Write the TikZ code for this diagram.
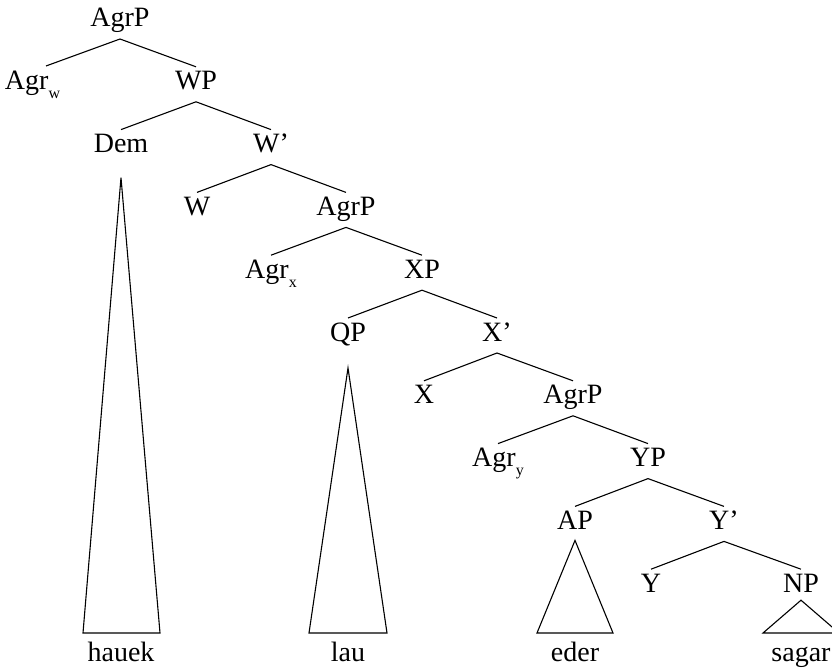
\documentclass[tikz,border=0pt]{standalone}
\usepackage{fontspec}
\setmainfont{Liberation Serif}
\usetikzlibrary{calc}
\newcommand\sbs[1]{\raisebox{-9pt}{\fontsize{16}{16}\selectfont #1}}
\tikzset{
  lbl/.style={inner sep=0pt, outer sep=0pt, font=\fontsize{28}{34}\selectfont, anchor=base},
  edge/.style={line width=1.1pt, line join=miter},
  tri/.style={line width=1.1pt, line join=miter}
}
\begin{document}
\begin{tikzpicture}[x=1pt,y=-1pt]
\useasboundingbox (0,0) rectangle (832,668);
% baselines b_k = 27 + 62.8 k
\node[lbl] (agrp1) at (120,27) {AgrP};
\node[lbl, anchor=base west] (agrw) at (5,89.8) {Agr\sbs{w}};
\coordinate (agrwtop) at (46,66);
\node[lbl] (wp) at (196,89.8) {WP};
\node[lbl] (dem) at (121,152.6) {Dem};
\node[lbl] (wbar) at (271,152.6) {W’};
\node[lbl] (w) at (197,215.4) {W};
\node[lbl] (agrp2) at (346,215.4) {AgrP};
\node[lbl] (agrx) at (271,278.2) {Agr\sbs{x}};
\node[lbl] (xp) at (422,278.2) {XP};
\node[lbl] (qp) at (348,341) {QP};
\node[lbl] (xbar) at (497,341) {X’};
\node[lbl] (x) at (424,403.8) {X};
\node[lbl] (agrp3) at (573,403.8) {AgrP};
\node[lbl] (agry) at (498,466.6) {Agr\sbs{y}};
\node[lbl] (yp) at (648,466.6) {YP};
\node[lbl] (ap) at (575,529.4) {AP};
\node[lbl] (ybar) at (724,529.4) {Y’};
\node[lbl] (y) at (651,592.2) {Y};
\node[lbl] (np) at (801,592.2) {NP};
% leaves
\node[lbl] (hauek) at (121,661) {hauek};
\node[lbl] (lau) at (348,661) {lau};
\node[lbl] (eder) at (575,661) {eder};
\node[lbl] (sagar) at (801,661) {sagar};
% branches
\newcommand\br[2]{\draw[edge] ($(#1.base)+(0,12)$) -- ($(#2.base)+(0,-23)$);}
\draw[edge] ($(agrp1.base)+(0,12)$) -- (agrwtop);
\br{agrp1}{wp}
\br{wp}{dem}
\br{wp}{wbar}
\br{wbar}{w}
\br{wbar}{agrp2}
\br{agrp2}{agrx}
\br{agrp2}{xp}
\br{xp}{qp}
\br{xp}{xbar}
\br{xbar}{x}
\br{xbar}{agrp3}
\br{agrp3}{agry}
\br{agrp3}{yp}
\br{yp}{ap}
\br{yp}{ybar}
\br{ybar}{y}
\br{ybar}{np}
% triangles
\draw[tri] ($(dem.base)+(0,25)$) -- (83,633) -- (160,633) -- cycle;
\draw[tri] ($(qp.base)+(0,27)$) -- (309,633) -- (387,633) -- cycle;
\draw[tri] ($(ap.base)+(0,11)$) -- (537,633) -- (613,633) -- cycle;
\draw[tri] ($(np.base)+(0,8)$) -- (763,633) -- (839,633) -- cycle;
\end{tikzpicture}
\end{document}
